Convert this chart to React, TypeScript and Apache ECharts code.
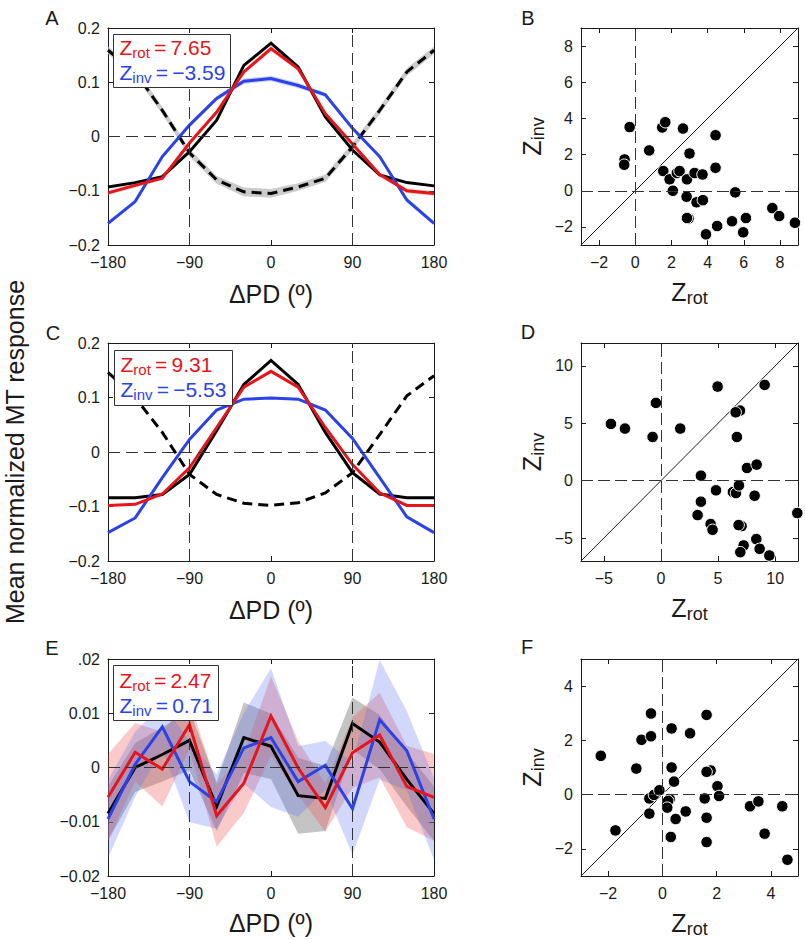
import React, { useEffect, useRef } from 'react';
import * as echarts from 'echarts';

const FONT = '"Liberation Sans", Arial, Helvetica, sans-serif';
const INK = '#1a1a1a';
const RED = '#e8141b';
const BLUE = '#2b42e8';

// ---------- data ----------
const dpd = [-180, -150, -120, -90, -60, -30, 0, 30, 60, 90, 120, 150, 180];
const dpdTickLabels = ['\u2212180', '\u221290', '0', '90', '180'];

// Panel A
const aBlack = [-0.093, -0.085, -0.074, -0.028, 0.03, 0.131, 0.172, 0.128, 0.036, -0.025, -0.071, -0.085, -0.091];
const aRed = [-0.104, -0.09, -0.077, -0.012, 0.045, 0.119, 0.162, 0.125, 0.042, -0.014, -0.07, -0.1, -0.105];
const aRedErr = [0.004, 0.004, 0.003, 0.003, 0.003, 0.004, 0.005, 0.004, 0.003, 0.003, 0.003, 0.004, 0.004];
const aBlue = [-0.16, -0.12, -0.037, 0.021, 0.07, 0.102, 0.107, 0.094, 0.077, 0.015, -0.037, -0.117, -0.16];
const aBlueErr = [0.004, 0.004, 0.004, 0.004, 0.004, 0.005, 0.005, 0.005, 0.004, 0.004, 0.004, 0.004, 0.004];
const aPred = [0.159, 0.119, 0.048, -0.03, -0.08, -0.102, -0.105, -0.093, -0.077, -0.019, 0.048, 0.119, 0.159];
const aPredErr = [0.007, 0.007, 0.007, 0.007, 0.007, 0.008, 0.008, 0.007, 0.007, 0.007, 0.007, 0.007, 0.007];
const aYTickLabels = ['\u22120.2', '\u22120.1', '0', '0.1', '0.2'];
const aZ = ['7.65', '\u22123.59'];

// Panel C
const cBlack = [-0.084, -0.084, -0.078, -0.041, 0.039, 0.124, 0.168, 0.124, 0.036, -0.038, -0.077, -0.084, -0.084];
const cRed = [-0.098, -0.096, -0.077, -0.029, 0.045, 0.119, 0.148, 0.119, 0.045, -0.023, -0.075, -0.098, -0.098];
const cBlue = [-0.148, -0.121, -0.047, 0.023, 0.077, 0.097, 0.099, 0.097, 0.077, 0.025, -0.047, -0.119, -0.148];
const cPred = [0.146, 0.1, 0.036, -0.041, -0.078, -0.094, -0.098, -0.093, -0.075, -0.038, 0.032, 0.103, 0.14];
const cZ = ['9.31', '\u22125.53'];

// Panel E
const eBlack = [-0.0085, 0.0, 0.0024, 0.005, -0.0072, 0.0055, 0.0039, -0.0052, -0.0057, 0.0081, 0.0047, -0.0022, -0.0085];
const eBlackErr = [0.005, 0.0045, 0.005, 0.0055, 0.0045, 0.0065, 0.006, 0.007, 0.006, 0.0048, 0.005, 0.005, 0.005];
const eRed = [-0.0055, 0.0028, -0.0003, 0.0079, -0.0089, -0.0029, 0.0095, -0.0001, -0.0074, 0.0027, 0.006, -0.0035, -0.0055];
const eRedErr = [0.008, 0.0054, 0.0069, 0.0045, 0.0057, 0.0055, 0.0073, 0.005, 0.0044, 0.0065, 0.0078, 0.0075, 0.008];
const eBlue = [-0.0095, 0.0006, 0.0075, -0.0026, -0.0063, 0.0036, 0.0055, -0.0026, 0.0004, -0.0076, 0.0088, 0.0031, -0.0095];
const eBlueErr = [0.0072, 0.006, 0.0042, 0.0075, 0.005, 0.0065, 0.0128, 0.0065, 0.0045, 0.0085, 0.011, 0.0073, 0.0075];
const eYTickLabels = ['\u22120.02', '\u22120.01', '0', '0.01', '.02'];
const eZ = ['2.47', '0.71'];

// Scatter panels [Zrot, Zinv]
const bPoints = [
  [-0.31, 3.52], [-0.59, 1.73], [-0.61, 1.44], [0.77, 2.23], [1.49, 3.5], [1.66, 3.79], [2.64, 3.44],
  [1.55, 1.09], [1.9, 0.63], [2.08, 0.0], [2.3, 0.98], [2.45, 1.09], [2.86, 0.63], [3.0, 2.06],
  [3.28, 0.98], [3.72, 0.9], [2.84, -0.33], [3.39, -0.64], [3.74, -0.52], [2.95, -1.53], [2.86, -1.51],
  [4.44, 3.07], [4.44, 1.27], [3.91, -2.41], [4.53, -1.95], [5.35, -1.69], [5.53, -0.09], [6.12, -1.51],
  [5.97, -2.3], [7.58, -0.96], [7.96, -1.4], [8.83, -1.77],
];
const bTicks = [-2, 0, 2, 4, 6, 8];
const bRange = [-3, 9];

const dPoints = [
  [-4.38, 4.95], [-3.15, 4.54], [-0.73, 3.81], [-0.44, 6.78], [1.69, 4.54], [4.96, 8.2], [9.08, 8.35],
  [6.92, 6.11], [6.54, 5.96], [6.65, 3.81], [7.53, 1.11], [8.38, 1.4], [3.5, 0.44], [4.82, -0.84],
  [6.3, -0.99], [6.57, -1.08], [6.83, -0.41], [8.2, -1.31], [3.5, -1.83], [3.21, -3.0], [4.35, -3.78],
  [4.52, -4.28], [7.06, -3.96], [6.8, -3.87], [8.35, -5.09], [7.24, -5.64], [8.64, -5.94], [6.95, -6.23],
  [9.49, -6.52], [11.94, -2.82],
];
const dTicks = [-5, 0, 5, 10];
const dRange = [-7, 12];

const fPoints = [
  [-2.27, 1.43], [-1.73, -1.32], [-0.96, 0.96], [-0.77, 2.02], [-0.42, 2.15], [-0.42, 2.99], [-0.48, -0.7],
  [-0.48, -0.14], [-0.31, -0.01], [-0.11, 0.16], [0.34, 2.44], [0.34, 1.0], [0.43, 0.48], [0.27, -0.17],
  [0.21, -0.23], [0.18, -0.48], [0.31, -1.56], [0.49, -0.9], [0.86, -0.62], [1.02, 2.26], [1.63, 2.94],
  [1.78, 0.89], [1.63, 0.84], [1.56, -0.14], [1.63, -0.85], [1.63, -1.75], [2.03, 0.31], [2.09, -0.05],
  [3.23, -0.43], [3.54, -0.25], [3.77, -1.44], [4.42, -0.43], [4.61, -2.4],
];
const fTicks = [-2, 0, 2, 4];
const fRange = [-3, 5];

const lineXRange = [-180, 180];
const aYRange = [-0.2, 0.2];
const eYRange = [-0.02, 0.02];

// ---------- layout ----------
const GRIDS = [
  { left: 108, top: 28, width: 326, height: 217 }, // A
  { left: 581, top: 28, width: 217, height: 217 }, // B
  { left: 108, top: 343, width: 326, height: 218 }, // C
  { left: 581, top: 343, width: 217, height: 218 }, // D
  { left: 108, top: 659, width: 326, height: 217 }, // E
  { left: 581, top: 659, width: 217, height: 217 }, // F
];

const fmtMinus = (v: number) => (v < 0 ? '\u2212' + String(Math.abs(v)) : String(v));

function buildOption() {
  const xAxes: any[] = [];
  const yAxes: any[] = [];
  const series: any[] = [];
  const axisLineStyle = { color: INK, width: 1 };

  const richName = {
    m: { fontSize: 25, fontFamily: FONT, color: INK, lineHeight: 30 },
    s: { fontSize: 18, fontFamily: FONT, color: INK, lineHeight: 18, verticalAlign: 'bottom' },
  };

  const mkAxis = (isX: boolean, main: boolean, grid: number, cfg: any) => {
    const o: any = {
      type: 'value',
      gridIndex: grid,
      min: cfg.min,
      max: cfg.max,
      position: isX ? (main ? 'bottom' : 'top') : main ? 'left' : 'right',
      axisLine: { show: true, onZero: false, lineStyle: axisLineStyle },
      axisTick: { show: true, inside: true, length: 5, lineStyle: axisLineStyle },
      axisLabel: {
        show: main,
        fontSize: 16,
        color: INK,
        fontFamily: FONT,
        margin: isX ? 9 : 8,
        showMinLabel: true,
        showMaxLabel: true,
      },
      splitLine: { show: false },
    };
    if (cfg.interval != null) o.interval = cfg.interval;
    if (cfg.custom) {
      o.axisTick.customValues = cfg.custom;
      o.axisLabel.customValues = cfg.custom;
      o.axisLabel.formatter = (v: number) => fmtMinus(v);
    } else if (cfg.labels) {
      o.axisLabel.formatter = (v: number) => cfg.labels[Math.round((v - cfg.min) / cfg.interval)];
    }
    if (main && cfg.name) {
      o.name = cfg.name;
      o.nameLocation = 'middle';
      o.nameGap = cfg.nameGap;
      o.nameTextStyle = { fontSize: 25, fontFamily: FONT, color: INK, rich: richName };
    }
    return o;
  };

  const addAxes = (grid: number, xc: any, yc: any) => {
    const xi = xAxes.length;
    xAxes.push(mkAxis(true, true, grid, xc));
    xAxes.push(mkAxis(true, false, grid, xc));
    const yi = yAxes.length;
    yAxes.push(mkAxis(false, true, grid, yc));
    yAxes.push(mkAxis(false, false, grid, yc));
    return { xi, yi };
  };

  const refLine = (data: any[], dash: number[]) => ({
    symbol: ['none', 'none'],
    silent: true,
    label: { show: false },
    lineStyle: { type: dash, color: '#333', width: 1 },
    data,
  });

  // confidence band: polygon drawn through the axes' scales
  const band = (ax: any, center: number[], err: number[], color: string) => {
    const pts = dpd.map((x, i) => [x, center[i] - err[i], center[i] + err[i]]);
    series.push({
      type: 'custom', xAxisIndex: ax.xi, yAxisIndex: ax.yi, silent: true, z: 1, clip: true,
      data: pts,
      encode: { x: 0, y: [1, 2] },
      renderItem: (params: any, api: any) => {
        if (params.dataIndex !== 0) return null;
        const upper = pts.map((p) => api.coord([p[0], p[2]]));
        const lower = pts.map((p) => api.coord([p[0], p[1]])).reverse();
        return {
          type: 'polygon',
          shape: { points: upper.concat(lower) },
          style: { fill: color, stroke: 'none' },
        };
      },
    });
  };

  const curve = (ax: any, vals: number[], color: string, dashed: boolean, z: number, markLine?: any) => {
    const s: any = {
      type: 'line', xAxisIndex: ax.xi, yAxisIndex: ax.yi,
      data: dpd.map((x, i) => [x, vals[i]]),
      symbol: 'none', silent: true, z,
      lineStyle: { color, width: 3, type: dashed ? [10, 6] : 'solid', cap: 'butt', join: 'miter' },
    };
    if (markLine) s.markLine = markLine;
    series.push(s);
  };

  const lineX = { min: lineXRange[0], max: lineXRange[1], interval: 90, labels: dpdTickLabels };
  const lineRefs = () => refLine([{ xAxis: -90 }, { xAxis: 90 }, { yAxis: 0 }], [12, 6]);

  // A
  const axA = addAxes(0, { ...lineX, name: '\u0394PD (\u00BA)', nameGap: 36 }, { min: aYRange[0], max: aYRange[1], interval: 0.1, labels: aYTickLabels });
  band(axA, aPred, aPredErr, 'rgba(185,185,185,0.75)');
  band(axA, aRed, aRedErr, 'rgba(240,90,90,0.35)');
  band(axA, aBlue, aBlueErr, 'rgba(90,110,240,0.3)');
  curve(axA, aPred, '#000', true, 2, lineRefs());
  curve(axA, aBlack, '#000', false, 3);
  curve(axA, aBlue, BLUE, false, 3);
  curve(axA, aRed, RED, false, 3);

  // C
  const axC = addAxes(2, { ...lineX, name: '\u0394PD (\u00BA)', nameGap: 36 }, { min: aYRange[0], max: aYRange[1], interval: 0.1, labels: aYTickLabels });
  curve(axC, cPred, '#000', true, 2, lineRefs());
  curve(axC, cBlack, '#000', false, 3);
  curve(axC, cBlue, BLUE, false, 3);
  curve(axC, cRed, RED, false, 3);

  // E
  const axE = addAxes(4, { ...lineX, name: '\u0394PD (\u00BA)', nameGap: 34 }, { min: eYRange[0], max: eYRange[1], interval: 0.01, labels: eYTickLabels });
  band(axE, eBlack, eBlackErr, 'rgba(100,100,100,0.38)');
  band(axE, eRed, eRedErr, 'rgba(240,80,80,0.3)');
  band(axE, eBlue, eBlueErr, 'rgba(80,105,240,0.26)');
  curve(axE, eBlack, '#000', false, 3, lineRefs());
  curve(axE, eBlue, BLUE, false, 3);
  curve(axE, eRed, RED, false, 3);

  // scatter panels
  const scatterPanel = (grid: number, pts: number[][], ticks: number[], range: number[]) => {
    const ax = addAxes(
      grid,
      { min: range[0], max: range[1], custom: ticks, name: '{m|Z}{s|rot}', nameGap: 32 },
      { min: range[0], max: range[1], custom: ticks, name: '{m|Z}{s|inv}', nameGap: 34 },
    );
    series.push({
      type: 'line', xAxisIndex: ax.xi, yAxisIndex: ax.yi,
      data: [[range[0], range[0]], [range[1], range[1]]],
      symbol: 'none', silent: true, z: 2,
      lineStyle: { color: INK, width: 1 },
      markLine: refLine([{ xAxis: 0 }, { yAxis: 0 }], [12, 5]),
    });
    series.push({
      type: 'scatter', xAxisIndex: ax.xi, yAxisIndex: ax.yi, data: pts,
      symbol: 'circle', symbolSize: 11.5, silent: true, z: 4,
      itemStyle: { color: '#000', borderColor: '#fff', borderWidth: 1, opacity: 1 },
    });
  };
  scatterPanel(1, bPoints, bTicks, bRange);
  scatterPanel(3, dPoints, dTicks, dRange);
  scatterPanel(5, fPoints, fTicks, fRange);

  // legend boxes and labels
  const statText = (x: number, y: number, color: string, sub: string, val: string) => ({
    type: 'text', x, y, z: 101, silent: true,
    style: {
      text: `{m|Z}{s|${sub}}{m|\u2009=\u2009${val}}`,
      fill: color,
      verticalAlign: 'middle',
      align: 'left',
      rich: {
        m: { fontSize: 21, fontFamily: FONT, fill: color, lineHeight: 26 },
        s: { fontSize: 15, fontFamily: FONT, fill: color, lineHeight: 15, verticalAlign: 'bottom' },
      },
    },
  });
  const statBox = (x: number, y: number, w: number, h: number, z: string[], l1: number, l2: number) => [
    { type: 'rect', z: 100, silent: true, shape: { x, y, width: w, height: h }, style: { fill: '#fff', stroke: '#333', lineWidth: 1 } },
    statText(x + 6, l1, RED, 'rot', z[0]),
    statText(x + 6, l2, BLUE, 'inv', z[1]),
  ];
  const letter = (t: string, x: number, y: number) => ({
    type: 'text', x, y, z: 101, silent: true,
    style: { text: t, fontSize: 20, fontFamily: FONT, fill: INK, align: 'center', verticalAlign: 'middle' },
  });

  const graphic: any[] = [
    ...statBox(113.5, 34.5, 117, 53, aZ, 47, 72),
    ...statBox(114.5, 350.5, 118, 55, cZ, 364, 389),
    ...statBox(113.5, 665.5, 105, 55, eZ, 680, 705),
    letter('A', 52, 18),
    letter('B', 528, 18),
    letter('C', 53, 333),
    letter('D', 528, 332),
    letter('E', 52, 648),
    letter('F', 527, 647),
    {
      type: 'text', x: 15, y: 452, rotation: Math.PI / 2, z: 101, silent: true,
      style: { text: 'Mean normalized MT response', fontSize: 25, fontFamily: FONT, fill: INK, align: 'center', verticalAlign: 'middle' },
    },
  ];

  return {
    animation: false,
    backgroundColor: '#fff',
    textStyle: { fontFamily: FONT },
    grid: GRIDS.map((g) => ({ ...g, containLabel: false })),
    xAxis: xAxes,
    yAxis: yAxes,
    series,
    graphic,
  };
}

export default function App() {
  const ref = useRef<HTMLDivElement>(null);
  useEffect(() => {
    document.body.style.margin = '0';
    if (!ref.current) return;
    const chart = echarts.init(ref.current, undefined, { renderer: 'svg' });
    chart.setOption(buildOption() as any);
    return () => chart.dispose();
  }, []);
  return <div ref={ref} style={{ width: 805, height: 940 }} />;
}
